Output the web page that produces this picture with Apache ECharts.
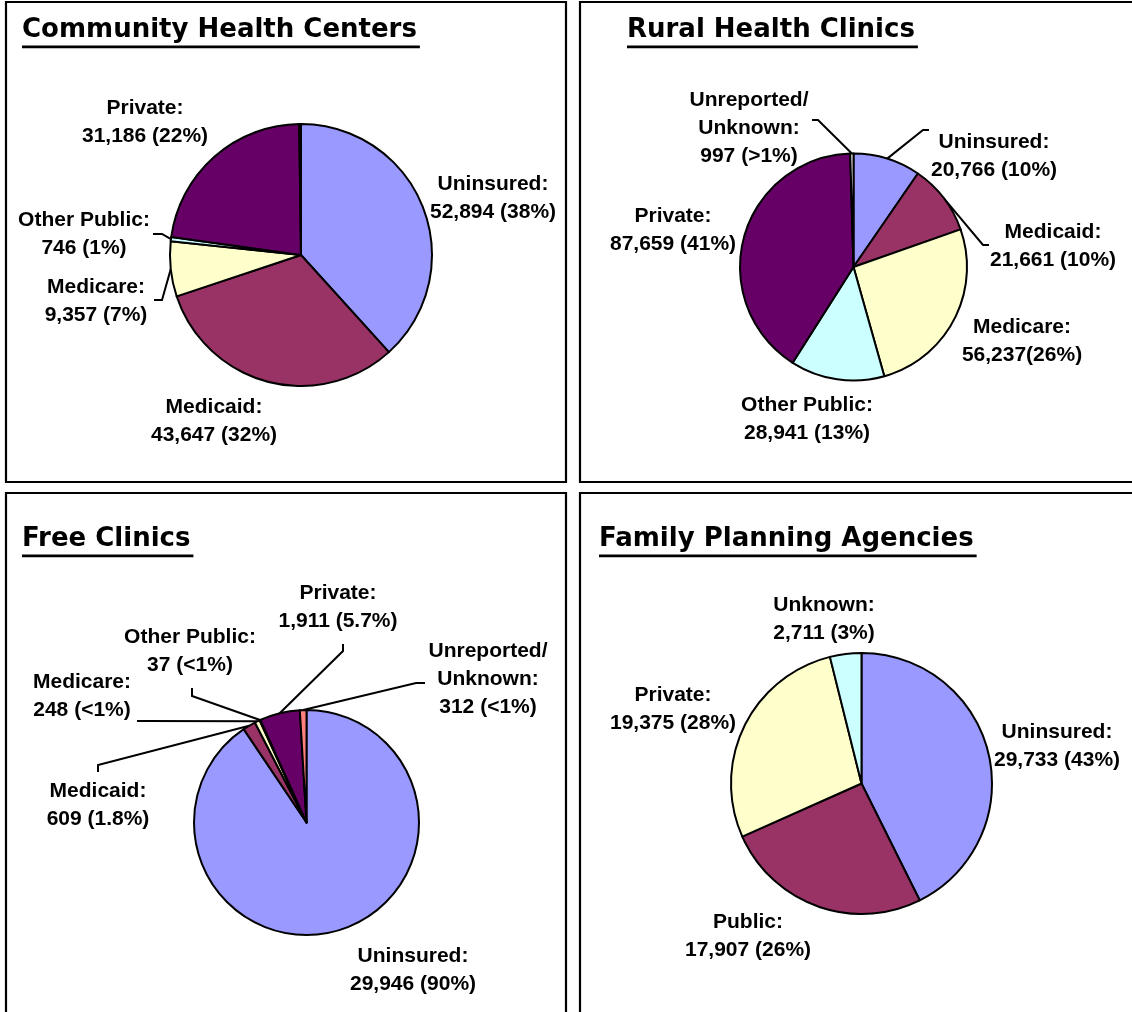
<!DOCTYPE html>
<html>
<head>
<meta charset="utf-8">
<title>Visits by Payer Source</title>
<script src="https://cdn.jsdelivr.net/npm/echarts@6/dist/echarts.min.js"></script>
<style>
  html, body { margin: 0; padding: 0; background: #ffffff; }
  #chart { width: 1132px; height: 1012px; }
</style>
</head>
<body>
<div id="chart"></div>
<script>
// ---- Community Health Centers ----
const chcNames  = ['Uninsured:', 'Medicaid:', 'Medicare:', 'Other Public:', 'Private:', 'Unreported/\nUnknown:'];
const chcValues = [52894, 43647, 9357, 746, 31186, 300];
const chcShares = [' (38%)', ' (32%)', ' (7%)', ' (1%)', ' (22%)', ''];
const chcColors = ['#9999FF', '#993366', '#FFFFCC', '#CCFFFF', '#660066', '#FFFFFF'];

// ---- Rural Health Clinics ----
const rhcNames  = ['Uninsured:', 'Medicaid:', 'Medicare:', 'Other Public:', 'Private:', 'Unreported/\nUnknown:'];
const rhcValues = [20766, 21661, 56237, 28941, 87659, 997];
const rhcShares = [' (10%)', ' (10%)', '(26%)', ' (13%)', ' (41%)', ' (>1%)'];
const rhcColors = ['#9999FF', '#993366', '#FFFFCC', '#CCFFFF', '#660066', '#FFFFFF'];

// ---- Free Clinics ----
const fcNames  = ['Uninsured:', 'Medicaid:', 'Medicare:', 'Other Public:', 'Private:', 'Unreported/\nUnknown:'];
const fcValues = [29946, 609, 248, 37, 1911, 312];
const fcShares = [' (90%)', ' (1.8%)', ' (<1%)', ' (<1%)', ' (5.7%)', ' (<1%)'];
const fcColors = ['#9999FF', '#993366', '#FFFFCC', '#CCFFFF', '#660066', '#FF8080'];

// ---- Family Planning Agencies ----
const fpNames  = ['Uninsured:', 'Public:', 'Private:', 'Unknown:'];
const fpValues = [29733, 17907, 19375, 2711];
const fpShares = [' (43%)', ' (26%)', ' (28%)', ' (3%)'];
const fpColors = ['#9999FF', '#993366', '#FFFFCC', '#CCFFFF'];

// Panel layout: frame, title, pie geometry and label placement
// (label / leader offsets are in px relative to the pie centre).
const panels = [
  {
    title: 'Community Health Centers', box: [6, 2, 560, 480], titleAt: [22, 30.5],
    center: [301, 255], radius: 131,
    names: chcNames, values: chcValues, shares: chcShares, colors: chcColors,
    labelAt: [[192, -57], [-87, 166], [-205, 46], [-217, -21], [-156, -133], null],
    leaders: [null, null, [[-139, 45], [-147, 45]], [[-139, -21], [-148, -21]], null, null]
  },
  {
    title: 'Rural Health Clinics', box: [580, 2, 580, 480], titleAt: [627, 30.5],
    center: [853.5, 267], radius: 113.5,
    names: rhcNames, values: rhcValues, shares: rhcShares, colors: rhcColors,
    labelAt: [[140.5, -111], [199.5, -21], [168.5, 74], [-46.5, 152], [-180.5, -37], [-104.5, -139]],
    leaders: [[[69.5, -137], [75.5, -137]], [[129.5, -22], [135.5, -22]], null, null, null,
              [[-35.5, -147], [-41.5, -147]]]
  },
  {
    title: 'Free Clinics', box: [6, 493, 560, 600], titleAt: [22, 539.5],
    center: [306.5, 822.5], radius: 112.5,
    names: fcNames, values: fcValues, shares: fcShares, colors: fcColors,
    labelAt: [[106.5, 147.5], [-208.5, -17.5], [-224.5, -126.5], [-116.5, -171.5], [31.5, -215.5], [181.5, -143.5]],
    leaders: [null, [[-208.5, -57.5], [-208.5, -50.5]], [[-163.5, -101.5], [-169.5, -101.5]],
              [[-114.5, -126.5], [-114.5, -134.5]], [[36.5, -171.5], [36.5, -178.5]],
              [[109.5, -139.5], [118.5, -139.5]]]
  },
  {
    title: 'Family Planning Agencies', box: [580, 493, 580, 600], titleAt: [599, 539.5],
    center: [861.5, 783.5], radius: 130.5,
    names: fpNames, values: fpValues, shares: fpShares, colors: fpColors,
    labelAt: [[195.5, -37.5], [-113.5, 152.5], [-188.5, -74.5], [-37.5, -164.5]],
    leaders: [null, null, null, null]
  }
];

const TITLE_FONT = 'bold 26px "DejaVu Sans", Verdana, sans-serif';
const measureCtx = document.createElement('canvas').getContext('2d');
function textWidth(text, font) {
  measureCtx.font = font;
  return measureCtx.measureText(text).width;
}

const graphics = [];
panels.forEach(function (p) {
  const b = p.box;
  graphics.push({
    type: 'rect', silent: true, z: 0,
    shape: { x: b[0], y: b[1], width: b[2], height: b[3] },
    style: { fill: 'none', stroke: '#000', lineWidth: 2.2 }
  });
  graphics.push({
    type: 'text', silent: true, z: 10,
    x: p.titleAt[0], y: p.titleAt[1],
    style: { text: p.title, font: TITLE_FONT, fill: '#000', align: 'left', verticalAlign: 'middle' }
  });
  graphics.push({
    type: 'rect', silent: true, z: 10,
    shape: { x: p.titleAt[0], y: p.titleAt[1] + 15, width: textWidth(p.title, TITLE_FONT) + 3, height: 2.8 },
    style: { fill: '#000' }
  });
});

function makeSeries(p) {
  const data = p.values.map(function (v, i) {
    const hasLabel = !!p.labelAt[i];
    return {
      name: p.names[i],
      value: v,
      itemStyle: { color: p.colors[i] },
      label: { show: hasLabel },
      labelLine: { show: hasLabel && !!p.leaders[i] }
    };
  });
  return {
    type: 'pie',
    center: p.center,
    radius: p.radius,
    startAngle: 90,
    clockwise: true,
    avoidLabelOverlap: false,
    silent: true,
    animation: false,
    emphasis: { disabled: true },
    itemStyle: { borderColor: '#000', borderWidth: 2 },
    label: {
      position: 'outside',
      color: '#000',
      fontFamily: '"Liberation Sans", Arial, sans-serif',
      fontWeight: 'bold',
      fontSize: 21,
      lineHeight: 28,
      align: 'center',
      formatter: function (prm) {
        const i = prm.dataIndex;
        return p.names[i] + '\n' + p.values[i].toLocaleString('en-US') + p.shares[i];
      }
    },
    labelLine: { show: false, lineStyle: { color: '#000', width: 2 } },
    labelLayout: function (prm) {
      const i = prm.dataIndex;
      const at = p.labelAt[i];
      if (!at) return {};
      const out = {
        x: p.center[0] + at[0],
        y: p.center[1] + at[1],
        align: 'center',
        verticalAlign: 'middle'
      };
      const ld = p.leaders[i];
      if (ld && prm.labelLinePoints) {
        const start = prm.labelLinePoints[0];
        out.labelLinePoints = [
          [start[0], start[1]],
          [p.center[0] + ld[0][0], p.center[1] + ld[0][1]],
          [p.center[0] + ld[1][0], p.center[1] + ld[1][1]]
        ];
      }
      return out;
    },
    data: data
  };
}

const chart = echarts.init(document.getElementById('chart'), null, { renderer: 'canvas' });
chart.setOption({
  backgroundColor: '#ffffff',
  animation: false,
  graphic: { elements: graphics },
  series: panels.map(makeSeries)
});
</script>
</body>
</html>
